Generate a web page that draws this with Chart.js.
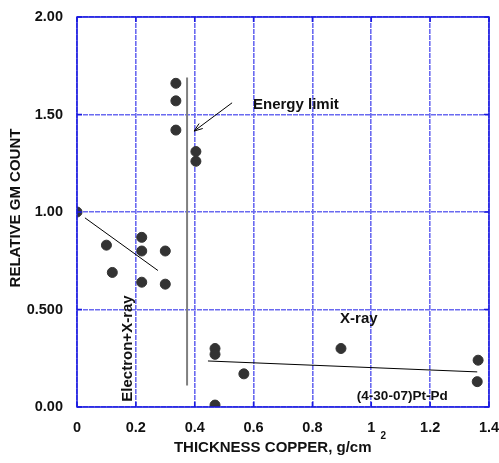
<!DOCTYPE html>
<html>
<head>
<meta charset="utf-8">
<title>Relative GM count vs thickness copper</title>
<script src="https://cdn.jsdelivr.net/npm/chart.js@4.4.0/dist/chart.umd.min.js"></script>
<style>
  html, body { margin: 0; padding: 0; background: #fff; }
  #wrap { width: 499px; height: 463px; }
</style>
</head>
<body>
<div id="wrap"><canvas id="chart" width="499" height="463"></canvas></div>
<script>
// measured points (thickness g/cm2, relative count)
const thickness = [0, 0.10, 0.12, 0.22, 0.22, 0.22, 0.30, 0.30, 0.336, 0.336, 0.336,
  0.404, 0.404, 0.469, 0.469, 0.469, 0.567, 0.897, 1.363, 1.36];
const relCount = [1.00, 0.83, 0.69, 0.87, 0.80, 0.64, 0.80, 0.63, 1.66, 1.57, 1.42,
  1.31, 1.26, 0.30, 0.27, 0.01, 0.17, 0.30, 0.24, 0.13];

// hand drawn fit lines
const electronFitX = [0.027, 0.275];
const electronFitY = [0.97, 0.70];
const xrayFitX = [0.445, 1.36];
const xrayFitY = [0.236, 0.18];
const limitX = [0.374, 0.374];
const limitY = [1.69, 0.11];
const arrowX = [0.527, 0.398];
const arrowY = [1.56, 1.415];

const xTicks = [0, 0.2, 0.4, 0.6, 0.8, 1, 1.2, 1.4];
const yTicks = [0, 0.5, 1, 1.5, 2];
const yTickLabels = ['0.00', '0.500', '1.00', '1.50', '2.00'];

const notes = [
  { text: 'Energy limit', x: 0.598, y: 1.55, size: 15 },
  { text: 'X-ray', x: 0.894, y: 0.45, size: 15 },
  { text: '(4-30-07)Pt-Pd', x: 0.951, y: 0.056, size: 13.5 },
  { text: 'Electron+X-ray', x: 0.173, y: 0.30, size: 15, rotate: true }
];

const BLUE = '#6a6af0';
const FONT = '"Liberation Sans", Arial, sans-serif';

const pairs = (xs, ys) => xs.map((x, i) => ({ x: x, y: ys[i] }));

const extras = {
  id: 'extras',
  afterDraw(chart) {
    const { ctx, chartArea: a, scales } = chart;
    const sx = scales.x, sy = scales.y;
    ctx.save();

    // frame + inner ticks
    ctx.strokeStyle = '#1a1ae0';
    ctx.lineWidth = 1.5;
    ctx.strokeRect(a.left, a.top, a.right - a.left, a.bottom - a.top);
    ctx.beginPath();
    xTicks.forEach(v => {
      const px = sx.getPixelForValue(v);
      ctx.moveTo(px, a.top); ctx.lineTo(px, a.top + 5);
      ctx.moveTo(px, a.bottom); ctx.lineTo(px, a.bottom - 5);
    });
    yTicks.forEach(v => {
      const py = sy.getPixelForValue(v);
      ctx.moveTo(a.left, py); ctx.lineTo(a.left + 5, py);
      ctx.moveTo(a.right, py); ctx.lineTo(a.right - 5, py);
    });
    ctx.stroke();

    // arrow
    const x0 = sx.getPixelForValue(arrowX[0]), y0 = sy.getPixelForValue(arrowY[0]);
    const x1 = sx.getPixelForValue(arrowX[1]), y1 = sy.getPixelForValue(arrowY[1]);
    const ang = Math.atan2(y1 - y0, x1 - x0);
    ctx.strokeStyle = '#000';
    ctx.lineWidth = 1;
    ctx.beginPath();
    ctx.moveTo(x0, y0); ctx.lineTo(x1, y1);
    ctx.moveTo(x1, y1); ctx.lineTo(x1 - 9 * Math.cos(ang - 0.35), y1 - 9 * Math.sin(ang - 0.35));
    ctx.moveTo(x1, y1); ctx.lineTo(x1 - 9 * Math.cos(ang + 0.35), y1 - 9 * Math.sin(ang + 0.35));
    ctx.stroke();

    // notes
    ctx.fillStyle = '#111';
    notes.forEach(n => {
      ctx.font = 'bold ' + n.size + 'px ' + FONT;
      const px = sx.getPixelForValue(n.x), py = sy.getPixelForValue(n.y);
      ctx.save();
      ctx.translate(px, py);
      if (n.rotate) {
        ctx.rotate(-Math.PI / 2);
        ctx.textAlign = 'center';
      } else {
        ctx.textAlign = 'left';
      }
      ctx.textBaseline = 'middle';
      ctx.fillText(n.text, 0, 0);
      ctx.restore();
    });

    // axis titles
    ctx.font = 'bold 15px ' + FONT;
    ctx.textBaseline = 'middle';
    const main = 'THICKNESS COPPER, g/cm';
    const w = ctx.measureText(main).width;
    ctx.font = 'bold 10px ' + FONT;
    const w2 = ctx.measureText('2').width;
    const cx = (a.left + a.right) / 2 - 3;
    const start = cx - (w + 9 + w2) / 2;
    ctx.font = 'bold 15px ' + FONT;
    ctx.textAlign = 'left';
    ctx.fillText(main, start, 448);
    ctx.font = 'bold 10px ' + FONT;
    ctx.fillText('2', start + w + 9, 436);

    ctx.font = 'bold 15px ' + FONT;
    ctx.save();
    ctx.translate(16, (a.top + a.bottom) / 2 - 4);
    ctx.rotate(-Math.PI / 2);
    ctx.textAlign = 'center';
    ctx.fillText('RELATIVE GM COUNT', 0, 0);
    ctx.restore();

    ctx.restore();
  }
};

new Chart(document.getElementById('chart'), {
  type: 'scatter',
  data: {
    datasets: [
      {
        label: 'data',
        data: pairs(thickness, relCount),
        backgroundColor: '#333',
        borderColor: '#333',
        pointRadius: 5,
        pointHoverRadius: 5,
        order: 0
      },
      {
        label: 'electron fit',
        data: pairs(electronFitX, electronFitY),
        showLine: true, borderColor: '#000', borderWidth: 1, pointRadius: 0, order: 1
      },
      {
        label: 'x-ray fit',
        data: pairs(xrayFitX, xrayFitY),
        showLine: true, borderColor: '#000', borderWidth: 1, pointRadius: 0, order: 1
      },
      {
        label: 'energy limit',
        data: pairs(limitX, limitY),
        showLine: true, borderColor: '#808080', borderWidth: 2, pointRadius: 0, order: 1
      }
    ]
  },
  options: {
    responsive: false,
    animation: false,
    events: [],
    layout: { padding: 0 },
    plugins: { legend: { display: false }, tooltip: { enabled: false } },
    scales: {
      x: {
        type: 'linear', min: 0, max: 1.4,
        afterFit: s => {
          s.height = 56;
          s.paddingLeft = 0;
          s.paddingRight = 10;
        },
        afterBuildTicks: s => { s.ticks = xTicks.map(v => ({ value: v })); },
        ticks: {
          padding: 12, color: '#111',
          font: { family: FONT, size: 14.5, weight: 'bold' },
          callback: v => String(Number(v.toFixed(1)))
        },
        grid: { color: BLUE, lineWidth: 1.6, drawTicks: false },
        border: { display: false, dash: [5, 1] }
      },
      y: {
        type: 'linear', min: 0, max: 2,
        afterFit: s => {
          s.width = 77;
          s.paddingTop = 17;
          s.paddingBottom = 0;
        },
        afterBuildTicks: s => { s.ticks = yTicks.map(v => ({ value: v })); },
        ticks: {
          padding: 14, color: '#111',
          font: { family: FONT, size: 14.5, weight: 'bold' },
          callback: v => yTickLabels[yTicks.indexOf(v)]
        },
        grid: { color: BLUE, lineWidth: 1.6, drawTicks: false },
        border: { display: false, dash: [5, 1] }
      }
    }
  },
  plugins: [extras]
});
</script>
</body>
</html>
